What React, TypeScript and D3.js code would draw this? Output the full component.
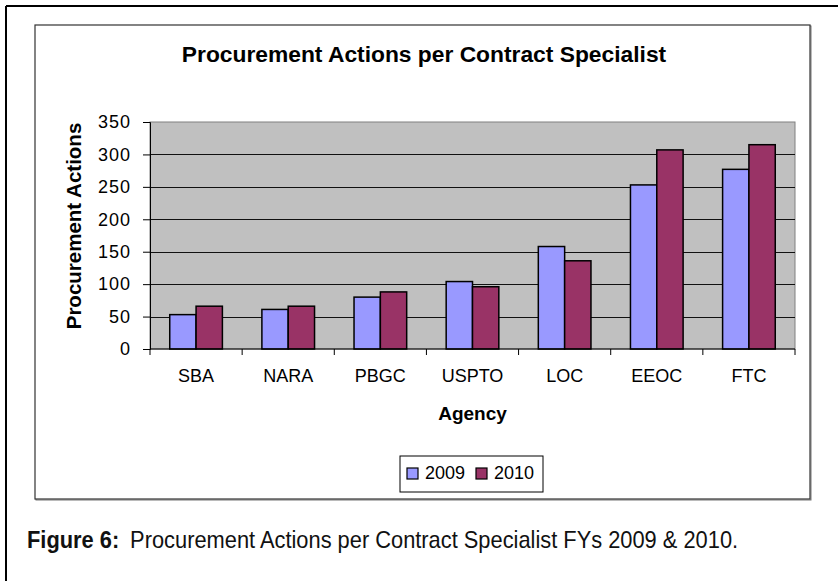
import React, { useRef, useEffect } from 'react';
import * as d3 from 'd3';

// chart data
const agencies = ['SBA', 'NARA', 'PBGC', 'USPTO', 'LOC', 'EEOC', 'FTC'];
const years = ['2009', '2010'];
const values2009 = [53, 61, 80, 104, 158, 253, 277];
const values2010 = [66, 66, 88, 96, 136, 307, 315];
const yTicks = [0, 50, 100, 150, 200, 250, 300, 350];
const seriesColors = ['#9999FF', '#993366'];

const chartTitle = 'Procurement Actions per Contract Specialist';
const xTitle = 'Agency';
const yTitle = 'Procurement Actions';
const captionBold = 'Figure 6:';
const captionText = 'Procurement Actions per Contract Specialist FYs 2009 & 2010.';

const W = 838;
const H = 581;
const FONT = '"Liberation Sans", Arial, sans-serif';

function BarChart() {
  const svgRef = useRef<SVGSVGElement | null>(null);

  useEffect(() => {
    const svg = d3.select(svgRef.current);
    svg.selectAll('*').remove();

    // page frame (only top and left visible)
    svg.append('line').attr('x1', 6).attr('y1', 6).attr('x2', W).attr('y2', 6)
      .attr('stroke', '#000').attr('stroke-width', 2);
    svg.append('line').attr('x1', 6).attr('y1', 6).attr('x2', 6).attr('y2', H)
      .attr('stroke', '#000').attr('stroke-width', 2);

    // chart box with a small shadow
    svg.append('rect').attr('x', 36).attr('y', 26).attr('width', 775).attr('height', 474)
      .attr('fill', 'none').attr('stroke', '#777').attr('stroke-width', 1);
    svg.append('rect').attr('x', 35).attr('y', 25).attr('width', 775).attr('height', 474)
      .attr('fill', '#fff').attr('stroke', '#333').attr('stroke-width', 1.2);

    const plot = { left: 150, right: 795, top: 122, bottom: 349 };

    const x0 = d3.scaleBand<string>().domain(agencies).range([plot.left, plot.right])
      .paddingInner(0).paddingOuter(0);
    const x1 = d3.scaleBand<string>().domain(years).range([0, x0.bandwidth()])
      .paddingInner(0).paddingOuter(0.75);
    const y = d3.scaleLinear().domain([0, 350]).range([plot.bottom, plot.top]);

    // plot background
    svg.append('rect')
      .attr('x', plot.left).attr('y', plot.top)
      .attr('width', plot.right - plot.left).attr('height', plot.bottom - plot.top)
      .attr('fill', '#C0C0C0').attr('stroke', '#808080').attr('stroke-width', 1);

    // gridlines
    svg.append('g')
      .selectAll('line')
      .data(yTicks.filter(t => t > 0 && t < 350))
      .enter()
      .append('line')
      .attr('x1', plot.left).attr('x2', plot.right)
      .attr('y1', d => Math.round(y(d)) + 0.5).attr('y2', d => Math.round(y(d)) + 0.5)
      .attr('stroke', '#111').attr('stroke-width', 1);

    // bars
    const series = [values2009, values2010];
    const groups = svg.append('g');
    agencies.forEach((a, i) => {
      years.forEach((yr, j) => {
        const v = series[j][i];
        groups.append('rect')
          .attr('x', (x0(a) as number) + (x1(yr) as number))
          .attr('y', y(v))
          .attr('width', x1.bandwidth())
          .attr('height', y(0) - y(v))
          .attr('fill', seriesColors[j])
          .attr('stroke', '#000')
          .attr('stroke-width', 1.5);
      });
    });

    // y axis
    const yAxis = d3.axisLeft(y).tickValues(yTicks).tickSize(7).tickPadding(12);
    const gy = svg.append('g').attr('transform', `translate(${plot.left},0)`).call(yAxis);
    gy.select('.domain').attr('stroke', '#000');
    gy.selectAll('.tick line').attr('stroke', '#000');
    gy.selectAll('.tick text')
      .attr('font-family', FONT).attr('font-size', 18).attr('fill', '#000')
      .attr('letter-spacing', 1);

    // x axis: ticks sit on band edges
    const gx = svg.append('g').attr('transform', `translate(0,${plot.bottom})`);
    gx.append('line').attr('x1', plot.left).attr('x2', plot.right).attr('y1', 0).attr('y2', 0)
      .attr('stroke', '#000');
    const edges = agencies.map(a => x0(a) as number).concat([plot.right]);
    gx.selectAll('line.edge').data(edges).enter().append('line')
      .attr('class', 'edge')
      .attr('x1', d => d).attr('x2', d => d).attr('y1', 0).attr('y2', 6)
      .attr('stroke', '#000');
    gx.selectAll('text').data(agencies).enter().append('text')
      .attr('x', d => (x0(d) as number) + x0.bandwidth() / 2)
      .attr('y', 33)
      .attr('text-anchor', 'middle')
      .attr('font-family', FONT).attr('font-size', 18).attr('fill', '#000')
      .text(d => d);

    // titles
    svg.append('text')
      .attr('x', 424).attr('y', 62)
      .attr('text-anchor', 'middle')
      .attr('font-family', FONT).attr('font-size', 22.8).attr('font-weight', 'bold')
      .text(chartTitle);

    svg.append('text')
      .attr('x', (plot.left + plot.right) / 2).attr('y', 420)
      .attr('text-anchor', 'middle')
      .attr('font-family', FONT).attr('font-size', 19).attr('font-weight', 'bold')
      .text(xTitle);

    svg.append('text')
      .attr('transform', `translate(81,226) rotate(-90)`)
      .attr('text-anchor', 'middle')
      .attr('font-family', FONT).attr('font-size', 20.5).attr('font-weight', 'bold')
      .text(yTitle);

    // legend
    const legend = svg.append('g').attr('transform', 'translate(400,456)');
    legend.append('rect').attr('width', 143).attr('height', 36)
      .attr('fill', '#fff').attr('stroke', '#000').attr('stroke-width', 1);
    const legendX = [7, 76];
    years.forEach((yr, j) => {
      legend.append('rect')
        .attr('x', legendX[j]).attr('y', 12).attr('width', 11).attr('height', 11)
        .attr('fill', seriesColors[j]).attr('stroke', '#000').attr('stroke-width', 1.2);
      legend.append('text')
        .attr('x', legendX[j] + 18).attr('y', 23)
        .attr('font-family', FONT).attr('font-size', 18)
        .text(yr);
    });

    // caption: narrow face imitated by squeezing Liberation Sans
    const cap = svg.append('text')
      .attr('transform', 'translate(27,548) scale(0.91,1)')
      .attr('font-family', FONT).attr('font-size', 24).attr('fill', '#111');
    cap.append('tspan').attr('font-weight', 'bold').text(captionBold);
    cap.append('tspan').attr('dx', 12).text(captionText);
  }, []);

  return (
    <svg
      ref={svgRef}
      width={W}
      height={H}
      style={{ position: 'absolute', left: 0, top: 0, background: '#fff' }}
    />
  );
}

export default function App() {
  return <BarChart />;
}
